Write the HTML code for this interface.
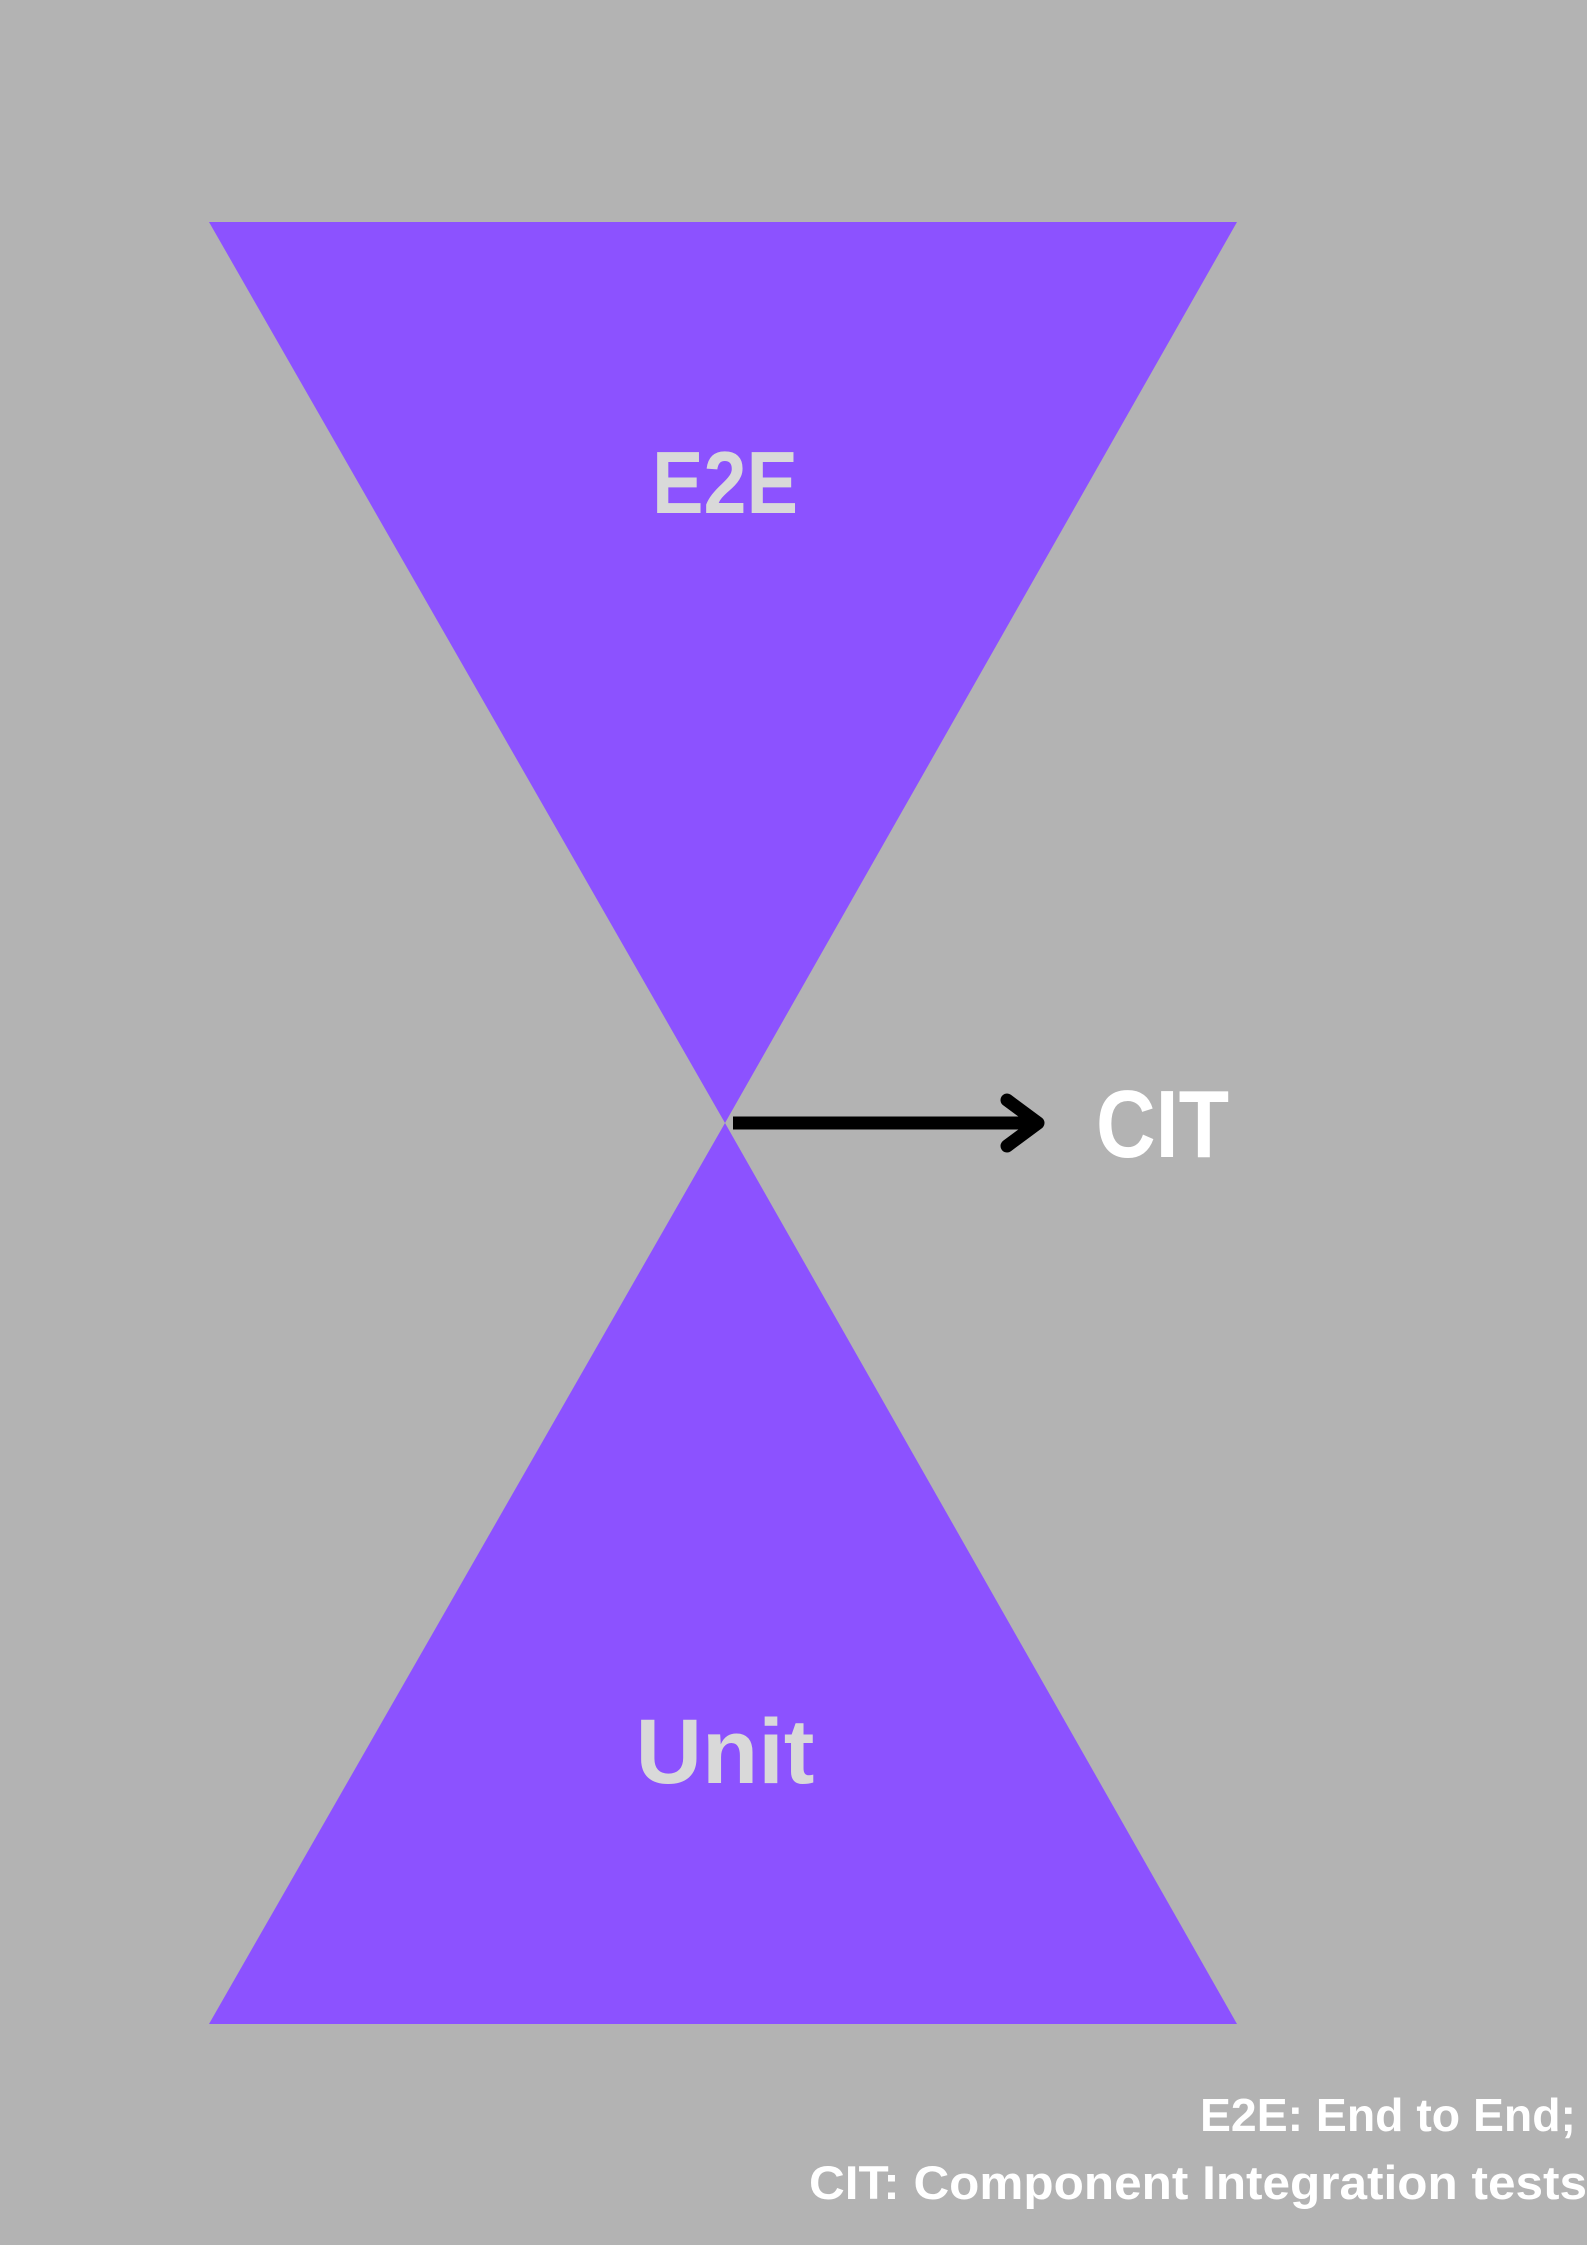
<!DOCTYPE html>
<html><head><meta charset="utf-8"><style>
html,body{margin:0;padding:0;background:#b3b3b3;}
body{width:1587px;height:2245px;overflow:hidden;position:relative;}
svg{position:absolute;left:0;top:0;}
</style></head><body>
<svg width="1587" height="2245" viewBox="0 0 1587 2245">
<rect width="1587" height="2245" fill="#b3b3b3"/>
<polygon points="209,222 1237,222 725,1123" fill="#8c52ff"/>
<polygon points="725,1123 209,2024 1237,2024" fill="#8c52ff"/>
<line x1="733" y1="1123" x2="1034" y2="1123" stroke="#000" stroke-width="13"/>
<polyline points="1007,1100 1038,1123 1007,1146" fill="none" stroke="#000" stroke-width="13" stroke-linecap="round" stroke-linejoin="round"/>
<g font-family="'Liberation Sans',sans-serif" font-weight="bold">
<text x="652" y="513" font-size="88" fill="#d9d9d9" textLength="146" lengthAdjust="spacingAndGlyphs">E2E</text>
<text x="725" y="1783" font-size="92" fill="#d9d9d9" text-anchor="middle">Unit</text>
<text x="1096" y="1157" font-size="96" fill="#ffffff" textLength="133" lengthAdjust="spacingAndGlyphs">CIT</text>
<text x="1200" y="2131" font-size="46" fill="#ffffff" textLength="376" lengthAdjust="spacingAndGlyphs">E2E: End to End;</text>
<text x="809" y="2199" font-size="47" fill="#ffffff" textLength="778" lengthAdjust="spacingAndGlyphs">CIT: Component Integration tests</text>
</g>
</svg>
</body></html>
